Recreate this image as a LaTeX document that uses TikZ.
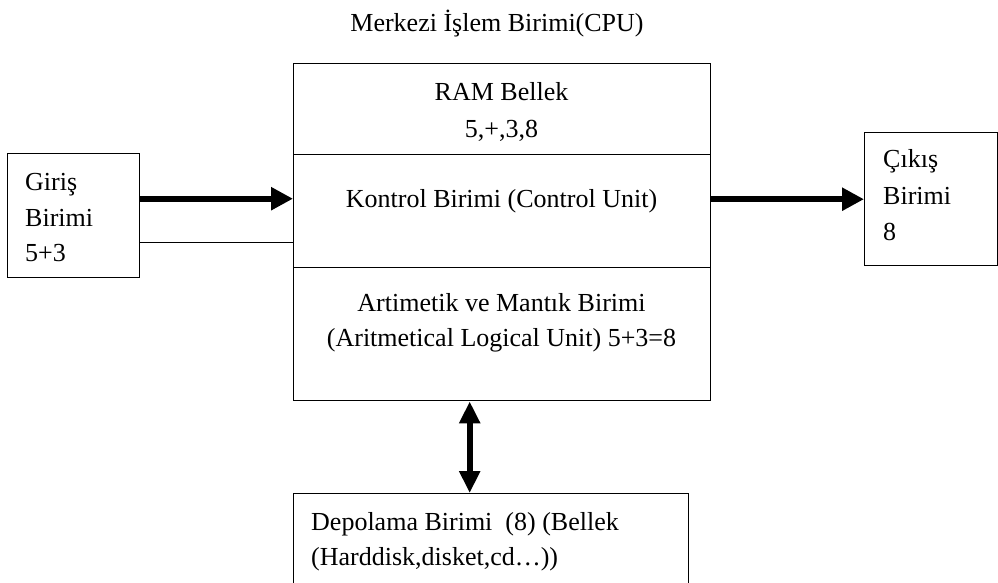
\documentclass[tikz,border=0pt]{standalone}
\usepackage{fontspec}
\setmainfont{Liberation Serif}
\usetikzlibrary{arrows.meta}
\begin{document}
\begin{tikzpicture}[x=1pt,y=-1pt,
  box/.style={draw,line width=1.4pt,inner sep=0pt,anchor=north west},
  lbl/.style={font=\fontsize{26}{36}\selectfont,inner sep=0pt},
  bigarrow/.style={line width=6pt,-{Triangle[length=22pt,width=22pt]}},
  dblarrow/.style={line width=6pt,{Triangle[length=22pt,width=20pt]}-{Triangle[length=22pt,width=20pt]}},
  thinline/.style={line width=1.2pt}
]
\useasboundingbox (0,0) rectangle (998,582);
% boxes
\node[box,minimum width=417pt,minimum height=91pt] (ram) at (293,63) {};
\node[box,minimum width=417pt,minimum height=113pt] (ctrl) at (293,154) {};
\node[box,minimum width=417pt,minimum height=133pt] (alu) at (293,267) {};
\node[box,minimum width=132pt,minimum height=124pt] (giris) at (7,153) {};
\node[box,minimum width=133pt,minimum height=133pt] (cikis) at (864,132) {};
\node[box,minimum width=395pt,minimum height=117pt] (depo) at (293,493) {};
% texts
\node[lbl,anchor=base] (title) at (497,31) {Merkezi İşlem Birimi(CPU)};
\node[lbl,anchor=base] (ram1) at (501.5,100) {RAM Bellek};
\node[lbl,anchor=base] (ram2) at (501.5,137) {5,+,3,8};
\node[lbl,anchor=base] (ctrl1) at (501.5,207) {Kontrol Birimi (Control Unit)};
\node[lbl,anchor=base] (alu1) at (501.5,311) {Artimetik ve Mantık Birimi};
\node[lbl,anchor=base] (alu2) at (501.5,346) {(Aritmetical Logical Unit) 5+3=8};
\node[lbl,anchor=base west] (g1) at (25,190) {Giriş};
\node[lbl,anchor=base west] (g2) at (25,226) {Birimi};
\node[lbl,anchor=base west] (g3) at (25,261) {5+3};
\node[lbl,anchor=base west] (c1) at (883,167) {Çıkış};
\node[lbl,anchor=base west] (c2) at (883,204) {Birimi};
\node[lbl,anchor=base west] (c3) at (883,240) {8};
\node[lbl,anchor=base west] (d1) at (311,530) {Depolama Birimi\ \ (8) (Bellek};
\node[lbl,anchor=base west] (d2) at (311,565) {(Harddisk,disket,cd…))};
% connectors
\draw[bigarrow] ([yshift=17pt]giris.east) -- ([yshift=17pt]giris.east -| ctrl.west);
\draw[thinline] ([yshift=-27pt]giris.east) -- ([yshift=-27pt]giris.east -| ctrl.west);
\draw[bigarrow] (cikis.west -| ctrl.east) -- (cikis.west);
\draw[dblarrow] ([xshift=-32.5pt]alu.south) -- ([xshift=-32.5pt]alu.south |- depo.north);
\end{tikzpicture}
\end{document}
